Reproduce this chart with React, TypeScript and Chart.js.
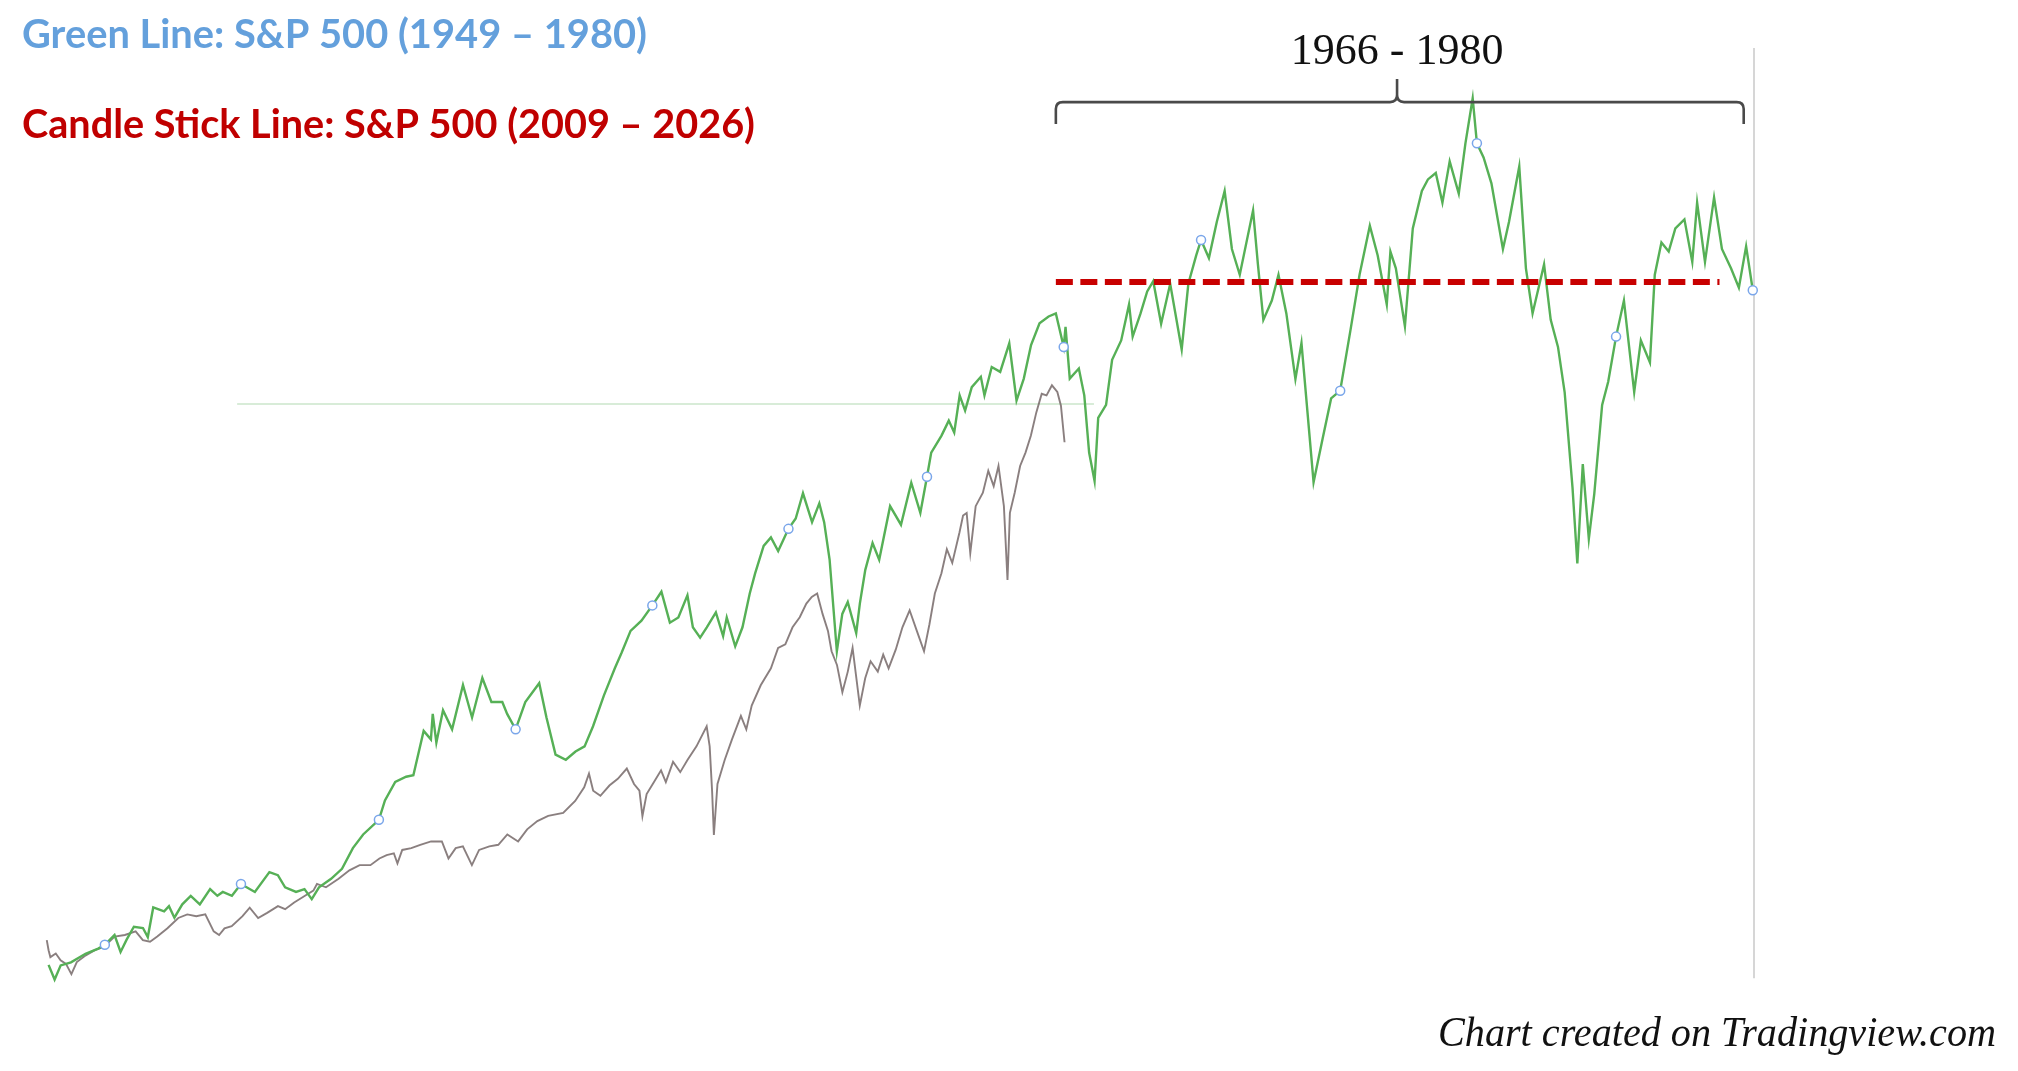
import { useEffect, useRef } from 'react';
import { Chart, registerables } from 'chart.js';
import type { Plugin } from 'chart.js';

Chart.register(...registerables);

const W = 2018;
const H = 1071;

// Green line: S&P 500 1949 - 1980 (year, relative level)
const greenYears = [1949.51, 1949.61, 1949.71, 1949.88, 1950.12, 1950.33, 1950.44, 1950.60, 1950.70, 1950.80, 1950.92, 1951.07, 1951.15, 1951.24, 1951.42, 1951.50, 1951.59, 1951.72, 1951.86, 1952.01, 1952.18, 1952.30, 1952.39, 1952.54, 1952.69, 1952.92, 1953.16, 1953.30, 1953.42, 1953.60, 1953.74, 1953.86, 1953.98, 1954.18, 1954.36, 1954.54, 1954.71, 1954.97, 1955.07, 1955.24, 1955.42, 1955.54, 1955.71, 1955.83, 1955.86, 1955.92, 1956.03, 1956.18, 1956.36, 1956.51, 1956.68, 1956.83, 1957.01, 1957.09, 1957.23, 1957.39, 1957.62, 1957.74, 1957.89, 1958.06, 1958.22, 1958.37, 1958.51, 1958.69, 1958.87, 1958.98, 1959.13, 1959.31, 1959.49, 1959.64, 1959.78, 1959.92, 1960.07, 1960.16, 1960.28, 1960.39, 1960.54, 1960.66, 1960.72, 1960.86, 1960.98, 1961.10, 1961.19, 1961.33, 1961.45, 1961.57, 1961.74, 1961.86, 1961.98, 1962.13, 1962.25, 1962.33, 1962.42, 1962.54, 1962.63, 1962.72, 1962.86, 1962.92, 1963.01, 1963.13, 1963.24, 1963.42, 1963.60, 1963.77, 1963.92, 1964.03, 1964.10, 1964.27, 1964.39, 1964.48, 1964.57, 1964.66, 1964.77, 1964.92, 1964.98, 1965.10, 1965.24, 1965.39, 1965.51, 1965.63, 1965.75, 1965.89, 1966.04, 1966.16, 1966.29, 1966.32, 1966.39, 1966.54, 1966.63, 1966.71, 1966.80, 1966.86, 1966.99, 1967.09, 1967.24, 1967.37, 1967.43, 1967.56, 1967.67, 1967.77, 1967.90, 1968.05, 1968.24, 1968.35, 1968.48, 1968.56, 1968.69, 1968.82, 1968.95, 1969.07, 1969.20, 1969.42, 1969.50, 1969.59, 1969.73, 1969.84, 1969.97, 1970.12, 1970.22, 1970.42, 1970.57, 1970.71, 1970.86, 1971.03, 1971.18, 1971.35, 1971.48, 1971.63, 1971.69, 1971.78, 1971.93, 1972.06, 1972.21, 1972.31, 1972.44, 1972.55, 1972.67, 1972.82, 1972.93, 1973.05, 1973.12, 1973.23, 1973.36, 1973.55, 1973.65, 1973.82, 1973.93, 1974.04, 1974.23, 1974.34, 1974.46, 1974.57, 1974.70, 1974.78, 1974.87, 1974.97, 1975.06, 1975.19, 1975.29, 1975.42, 1975.55, 1975.72, 1975.83, 1975.98, 1976.06, 1976.17, 1976.29, 1976.40, 1976.55, 1976.68, 1976.76, 1976.89, 1977.04, 1977.17, 1977.32, 1977.45, 1977.57, 1977.68];
const greenLevels = [12.6, 9.75, 12.5, 13.1, 14.75, 15.75, 16.5, 18.4, 15.1, 17.5, 20, 19.75, 18, 23.75, 23, 24, 21.75, 24.35, 26, 24.35, 27.3, 26, 26.75, 26, 28.3, 26.75, 30.6, 30, 27.65, 26.75, 27.3, 25.35, 27.65, 29.3, 31.25, 35.25, 37.9, 40.75, 44.5, 48.1, 49.1, 49.4, 58, 56.35, 61.3, 55.7, 62, 58.3, 66.9, 60.6, 68.25, 63.6, 63.6, 61.3, 58.3, 63.6, 67.25, 60.6, 53.4, 52.4, 54, 55, 58.9, 64.9, 70.15, 73.1, 77.4, 79.4, 82.35, 85, 79, 80, 84.3, 78.1, 76.1, 78.1, 81, 76.4, 80, 74.4, 78.1, 84.65, 88.6, 93.9, 95.55, 92.9, 97.2, 99.2, 104.1, 98.5, 102.15, 98.5, 91.25, 73.45, 80.7, 83, 77, 82.7, 89.25, 94.45, 91.2, 101.6, 98, 106.15, 100.3, 107.3, 112, 115.3, 118.2, 115.9, 123.1, 120.15, 124.7, 126.7, 123.1, 128.6, 127.65, 133.2, 122.1, 126.35, 132.85, 137.1, 138.4, 139, 132.5, 136.4, 126.35, 128.3, 123.1, 112, 106.5, 118.75, 121.25, 130, 133.75, 140.75, 134.5, 139, 143.25, 145.25, 137, 144.75, 132, 144.75, 150.25, 153.25, 149.75, 156.75, 162.75, 151.5, 146.5, 159, 148.5, 137.75, 141.5, 146.5, 139, 126.25, 133.25, 106.25, 114.75, 122.5, 124, 135.75, 146.5, 156, 150.25, 140.75, 151, 147.75, 136.5, 155.5, 162.75, 165, 166.25, 160.5, 168.5, 162.25, 172, 180.75, 172, 169.25, 164.25, 151.5, 156.75, 167.5, 147.75, 139, 148.5, 137.75, 132.5, 123.75, 105.25, 90.5, 109.75, 95.25, 104, 121.25, 125.75, 134.5, 141.5, 123.75, 133.75, 129.5, 146.5, 152.75, 151, 155.5, 157.25, 149, 160.5, 149, 161.5, 151.5, 147.75, 144, 152, 143.5];
// small blue rings sitting on the green line
const markerYears = [1950.44, 1952.69, 1954.97, 1957.23, 1959.49, 1961.74, 1964.03, 1966.29, 1968.56, 1970.86, 1973.12, 1975.42, 1977.68];

// Candle stick line: S&P 500 2009 - 2026
const grayYears = [2009.18, 2009.21, 2009.24, 2009.33, 2009.41, 2009.50, 2009.59, 2009.68, 2009.83, 2009.98, 2010.13, 2010.31, 2010.48, 2010.66, 2010.78, 2010.90, 2011.02, 2011.19, 2011.37, 2011.52, 2011.67, 2011.82, 2011.96, 2012.05, 2012.14, 2012.26, 2012.44, 2012.56, 2012.70, 2012.85, 2013.03, 2013.15, 2013.30, 2013.48, 2013.62, 2013.68, 2013.83, 2014.04, 2014.22, 2014.39, 2014.57, 2014.72, 2014.84, 2014.96, 2015.02, 2015.10, 2015.25, 2015.40, 2015.58, 2015.76, 2015.87, 2015.99, 2016.11, 2016.26, 2016.38, 2016.55, 2016.70, 2016.85, 2017.03, 2017.18, 2017.35, 2017.53, 2017.78, 2017.98, 2018.13, 2018.21, 2018.28, 2018.40, 2018.55, 2018.69, 2018.84, 2018.96, 2019.05, 2019.10, 2019.17, 2019.29, 2019.41, 2019.49, 2019.61, 2019.73, 2019.85, 2020.00, 2020.17, 2020.22, 2020.26, 2020.29, 2020.35, 2020.47, 2020.59, 2020.74, 2020.83, 2020.92, 2021.07, 2021.24, 2021.36, 2021.48, 2021.60, 2021.72, 2021.83, 2021.92, 2022.01, 2022.10, 2022.19, 2022.25, 2022.34, 2022.43, 2022.52, 2022.60, 2022.72, 2022.81, 2022.90, 2023.02, 2023.11, 2023.20, 2023.32, 2023.43, 2023.55, 2023.67, 2023.79, 2023.88, 2023.97, 2024.08, 2024.17, 2024.26, 2024.38, 2024.44, 2024.50, 2024.56, 2024.65, 2024.77, 2024.86, 2024.95, 2025.03, 2025.12, 2025.18, 2025.22, 2025.30, 2025.39, 2025.48, 2025.57, 2025.66, 2025.75, 2025.83, 2025.92, 2026.01, 2026.07, 2026.13];
const grayLevels = [17.4, 15.45, 14.1, 14.8, 13.5, 12.8, 10.8, 13.15, 14.45, 15.45, 16.1, 18.1, 18.4, 19.1, 17.4, 17.1, 18.1, 19.7, 21.7, 22.4, 22.05, 22.4, 19.1, 18.4, 19.7, 20.1, 22.05, 23.7, 21.7, 22.7, 24, 23.4, 24.7, 26, 27, 28.3, 27.65, 29.3, 30.95, 31.95, 31.95, 33.25, 33.9, 34.25, 32.3, 34.9, 35.25, 35.9, 36.55, 36.55, 33.25, 35.25, 35.6, 31.95, 34.9, 35.6, 35.9, 37.9, 36.55, 38.9, 40.5, 41.5, 42.1, 44.4, 47.05, 49.7, 46.4, 45.4, 47.4, 48.7, 50.7, 47.7, 46.4, 41.45, 45.75, 48.05, 50.35, 48.05, 52, 50, 52.35, 55, 58.9, 55, 46.4, 37.8, 47.7, 52.35, 56.3, 60.9, 58.3, 62.9, 66.85, 70.15, 74.1, 74.8, 78.1, 80.05, 82.7, 84, 84.65, 80.7, 77.4, 73.45, 70.8, 65.5, 69.5, 74.1, 62.9, 68.2, 71.5, 69.5, 72.8, 70.15, 73.8, 78.1, 81.4, 77.4, 73.45, 78.7, 84.65, 88.6, 93.25, 90.6, 96.5, 99.8, 100.3, 92.5, 101.6, 104.2, 108.45, 105.5, 109.4, 101.6, 87.3, 100.3, 104.2, 109.4, 112, 115.3, 119.8, 123.4, 123.1, 125.05, 123.75, 121.1, 114];

// annotations (in the same year / level units)
const resistanceYears = [1966.16, 1977.13];
const resistanceLevel = 145.1;
const bracketYears = [1966.16, 1971.8, 1977.53];
const bracketLevels = [175.75, 180, 184.5]; // ends, bar, tip
const bracketLabel = '1966 - 1980';
const lastBarYear = 1977.7;
const lastBarLevels = [190.5, 10];
const priceLineYears = [2012.35, 2026.62];
const priceLineLevel = 121.4;

const greenTitle = 'Green Line: S&P 500 (1949 \u2013 1980)';
const redTitle = 'Candle Stick Line: S&P 500 (2009 \u2013 2026)';
const credit = 'Chart created on Tradingview.com';

const pairs = (xs: number[], ys: number[]) =>
  xs.slice(0, Math.min(xs.length, ys.length)).map((x, i) => ({ x, y: ys[i] }));

const markerSet = new Set(markerYears);

const overlay: Plugin<'line'> = {
  id: 'overlay',
  afterDraw(chart) {
    const { ctx } = chart;
    const x = chart.scales.x;
    const y = chart.scales.y;
    ctx.save();

    // bracket over 1966 - 1980
    const x0 = x.getPixelForValue(bracketYears[0]);
    const xm = x.getPixelForValue(bracketYears[1]);
    const x1 = x.getPixelForValue(bracketYears[2]);
    const ye = y.getPixelForValue(bracketLevels[0]);
    const yb = y.getPixelForValue(bracketLevels[1]);
    const yt = y.getPixelForValue(bracketLevels[2]);
    const r = 7;
    ctx.strokeStyle = '#4a4a4a';
    ctx.lineWidth = 2.6;
    ctx.beginPath();
    ctx.moveTo(x0, ye);
    ctx.lineTo(x0, yb + r);
    ctx.quadraticCurveTo(x0, yb, x0 + r, yb);
    ctx.lineTo(xm - r, yb);
    ctx.quadraticCurveTo(xm, yb, xm, yb - r);
    ctx.lineTo(xm, yt);
    ctx.moveTo(xm, yb - r);
    ctx.quadraticCurveTo(xm, yb, xm + r, yb);
    ctx.lineTo(x1 - r, yb);
    ctx.quadraticCurveTo(x1, yb, x1, yb + r);
    ctx.lineTo(x1, ye);
    ctx.stroke();

    ctx.fillStyle = '#111';
    ctx.font = '44px "Liberation Serif"';
    ctx.textAlign = 'center';
    ctx.textBaseline = 'alphabetic';
    ctx.fillText(bracketLabel, xm, 64);

    // titles
    ctx.textAlign = 'left';
    ctx.font = 'bold 40px Lato';
    ctx.fillStyle = '#64a0dc';
    ctx.fillText(greenTitle, 22, 48, 625);
    ctx.fillStyle = '#c00000';
    ctx.fillText(redTitle, 22, 138, 733);

    // credit
    ctx.fillStyle = '#111';
    ctx.font = 'italic 43px "Liberation Serif"';
    ctx.fillText(credit, 1438, 1046, 558);
    ctx.restore();
  },
};

export default function App() {
  const canvasRef = useRef<HTMLCanvasElement | null>(null);

  useEffect(() => {
    const ctx = canvasRef.current?.getContext('2d');
    if (!ctx) return;

    const chart = new Chart(ctx, {
      type: 'line',
      data: {
        datasets: [
          {
            label: 'Resistance',
            data: resistanceYears.map((x) => ({ x, y: resistanceLevel })),
            borderColor: '#c80000',
            borderWidth: 6,
            borderDash: [17, 7.5],
            pointRadius: 0,
            order: 0,
          },
          {
            label: 'S&P 500 (1949 - 1980)',
            data: pairs(greenYears, greenLevels),
            borderColor: 'rgb(86,176,86)',
            borderWidth: 2.4,
            pointRadius: (c: any) => (markerSet.has(greenYears[c.dataIndex]) ? 4.5 : 0),
            pointBorderColor: '#7aa6ea',
            pointBackgroundColor: '#ffffff',
            pointBorderWidth: 1.5,
            order: 1,
          },
          {
            label: 'S&P 500 (2009 - 2026)',
            data: pairs(grayYears, grayLevels),
            xAxisID: 'x2',
            borderColor: 'rgba(118,104,104,0.85)',
            borderWidth: 1.9,
            pointRadius: 0,
            order: 2,
          },
          {
            label: 'Price line',
            data: priceLineYears.map((x) => ({ x, y: priceLineLevel })),
            xAxisID: 'x2',
            borderColor: 'rgba(100,180,100,0.25)',
            borderWidth: 2,
            pointRadius: 0,
            order: 3,
          },
          {
            label: 'Last bar',
            data: lastBarLevels.map((y) => ({ x: lastBarYear, y })),
            borderColor: '#d6d6d6',
            borderWidth: 2,
            pointRadius: 0,
            order: 3,
          },
        ],
      },
      options: {
        animation: false,
        responsive: false,
        maintainAspectRatio: false,
        layout: { padding: 0, autoPadding: false },
        elements: { line: { tension: 0 } },
        scales: {
          x: { type: 'linear', display: false, min: 1948.707, max: 1982.064 },
          x2: { type: 'linear', axis: 'x', display: false, min: 2008.401, max: 2042.009 },
          y: { type: 'linear', display: false, min: -7.99, max: 199.81 },
        },
        plugins: {
          legend: { display: false },
          tooltip: { enabled: false },
        },
      },
      plugins: [overlay],
    });

    return () => {
      chart.destroy();
    };
  }, []);

  return (
    <div style={{ position: 'fixed', left: 0, top: 0, width: W, height: H, background: '#fff' }}>
      <canvas ref={canvasRef} width={W} height={H} style={{ width: W, height: H, display: 'block' }}></canvas>
    </div>
  );
}
